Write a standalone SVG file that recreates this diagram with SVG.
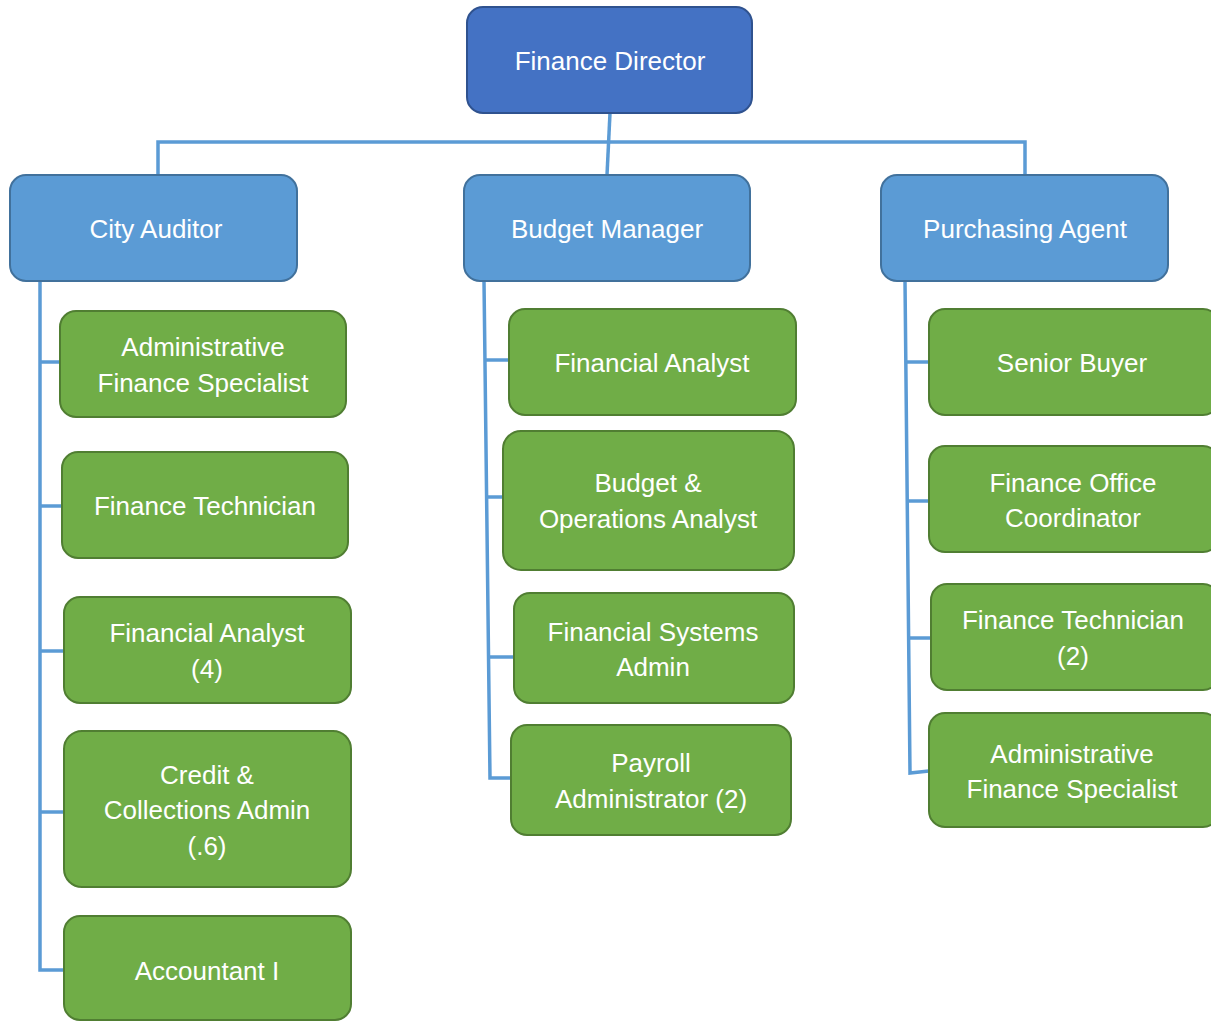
<svg xmlns="http://www.w3.org/2000/svg" width="1211" height="1022" viewBox="0 0 1211 1022">
<style>
.dir{fill:#4472C4;stroke:#2F528F;stroke-width:2}
.mgr{fill:#5B9BD5;stroke:#41719C;stroke-width:2}
.emp{fill:#70AD47;stroke:#507E32;stroke-width:2}
.t{font-family:"Liberation Sans",Arial,sans-serif;font-size:26px;fill:#FFFFFF;text-anchor:middle}
.c{fill:none;stroke:#5B9BD5;stroke-width:3.5}
</style>
<rect width="1211" height="1022" fill="#FFFFFF"/>
<g id="connectors">
<polyline class="c" points="158,175 158,142 1025,142 1025,175"/>
<line class="c" x1="610" y1="113" x2="607" y2="175"/>
<polyline class="c" points="40,281 40,970 64,970"/>
<line class="c" x1="40" y1="362" x2="60" y2="362"/>
<line class="c" x1="40" y1="506" x2="62" y2="506"/>
<line class="c" x1="40" y1="651" x2="64" y2="651"/>
<line class="c" x1="40" y1="812" x2="64" y2="812"/>
<polyline class="c" points="484,281 490,778 511,778"/>
<line class="c" x1="485" y1="360" x2="509" y2="360"/>
<line class="c" x1="487" y1="497" x2="503" y2="497"/>
<line class="c" x1="489" y1="657" x2="514" y2="657"/>
<polyline class="c" points="905,281 910,773 929,771"/>
<line class="c" x1="905" y1="362" x2="929" y2="362"/>
<line class="c" x1="907" y1="501" x2="929" y2="501"/>
<line class="c" x1="908" y1="638" x2="931" y2="638"/>
</g>
<g id="finance-director"><rect class="dir" x="467" y="7" width="285" height="106" rx="16"/><text class="t" x="610" y="70">Finance Director</text></g>
<g id="city-auditor"><rect class="mgr" x="10" y="175" width="287" height="106" rx="16"/><text class="t" x="156" y="238">City Auditor</text></g>
<g id="budget-manager"><rect class="mgr" x="464" y="175" width="286" height="106" rx="16"/><text class="t" x="607" y="238">Budget Manager</text></g>
<g id="purchasing-agent"><rect class="mgr" x="881" y="175" width="287" height="106" rx="16"/><text class="t" x="1025" y="238">Purchasing Agent</text></g>
<g id="ca-admin-fin-spec"><rect class="emp" x="60" y="311" width="286" height="106" rx="16"/><text class="t" x="203" y="356">Administrative</text><text class="t" x="203" y="392">Finance Specialist</text></g>
<g id="ca-finance-tech"><rect class="emp" x="62" y="452" width="286" height="106" rx="16"/><text class="t" x="205" y="515">Finance Technician</text></g>
<g id="ca-fin-analyst"><rect class="emp" x="64" y="597" width="287" height="106" rx="16"/><text class="t" x="207" y="642">Financial Analyst</text><text class="t" x="207" y="678">(4)</text></g>
<g id="ca-credit"><rect class="emp" x="64" y="731" width="287" height="156" rx="18"/><text class="t" x="207" y="784">Credit &amp;</text><text class="t" x="207" y="819">Collections Admin</text><text class="t" x="207" y="855">(.6)</text></g>
<g id="ca-accountant"><rect class="emp" x="64" y="916" width="287" height="104" rx="16"/><text class="t" x="207" y="980">Accountant I</text></g>
<g id="bm-fin-analyst"><rect class="emp" x="509" y="309" width="287" height="106" rx="16"/><text class="t" x="652" y="372">Financial Analyst</text></g>
<g id="bm-budget-ops"><rect class="emp" x="503" y="431" width="291" height="139" rx="18"/><text class="t" x="648" y="492">Budget &amp;</text><text class="t" x="648" y="528">Operations Analyst</text></g>
<g id="bm-fin-systems"><rect class="emp" x="514" y="593" width="280" height="110" rx="16"/><text class="t" x="653" y="641">Financial Systems</text><text class="t" x="653" y="676">Admin</text></g>
<g id="bm-payroll"><rect class="emp" x="511" y="725" width="280" height="110" rx="16"/><text class="t" x="651" y="772">Payroll</text><text class="t" x="651" y="808">Administrator (2)</text></g>
<g id="pa-senior-buyer"><rect class="emp" x="929" y="309" width="290" height="106" rx="16"/><text class="t" x="1072" y="372">Senior Buyer</text></g>
<g id="pa-office-coord"><rect class="emp" x="929" y="446" width="290" height="106" rx="16"/><text class="t" x="1073" y="492">Finance Office</text><text class="t" x="1073" y="527">Coordinator</text></g>
<g id="pa-finance-tech"><rect class="emp" x="931" y="584" width="288" height="106" rx="16"/><text class="t" x="1073" y="629">Finance Technician</text><text class="t" x="1073" y="665">(2)</text></g>
<g id="pa-admin-fin-spec"><rect class="emp" x="929" y="713" width="290" height="114" rx="16"/><text class="t" x="1072" y="763">Administrative</text><text class="t" x="1072" y="798">Finance Specialist</text></g>
</svg>
